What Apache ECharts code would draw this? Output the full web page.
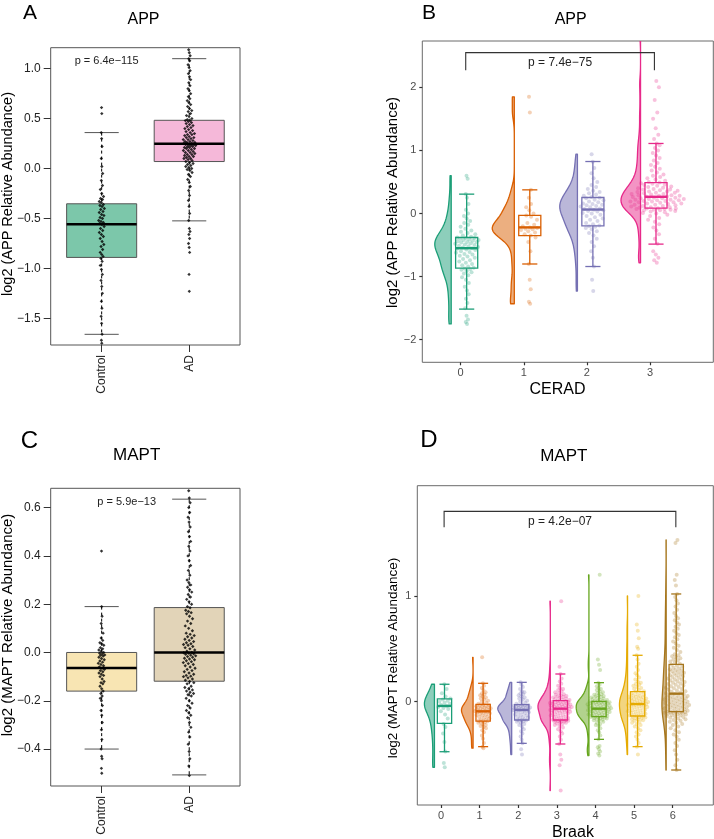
<!DOCTYPE html>
<html><head><meta charset="utf-8">
<script src="https://cdn.jsdelivr.net/npm/echarts@6/dist/echarts.min.js"></script>
<style>html,body{margin:0;padding:0;background:#fff}#c{width:714px;height:839px}</style>
</head><body><div id="c"></div>
<script>
// ---------------- DATA ----------------
const groupsAD = ['Control', 'AD'];

// Panel A: APP, Control vs AD
const appControl = [-1.75,-1.72,-1.66,-1.55,-1.48,-1.40,-1.33,-1.25,-1.18,-1.12,-1.06,-1.01,-0.97,-0.93,-0.90,
  -0.88,-0.86,-0.84,-0.81,-0.78,-0.76,-0.73,-0.70,-0.68,-0.66,-0.64,-0.62,-0.60,-0.58,-0.56,
  -0.55,-0.54,-0.53,-0.52,-0.50,-0.49,-0.47,-0.46,-0.44,-0.43,-0.41,-0.40,-0.38,-0.37,-0.36,
  -0.34,-0.33,-0.31,-0.30,-0.28,-0.25,-0.21,-0.17,-0.12,-0.05,0.02,0.10,0.22,0.30,0.36,0.55,0.61];
const appAD = [-1.23,-1.06,-0.84,-0.79,-0.75,-0.70,-0.66,-0.63,-0.60,-0.52,-0.45,-0.38,-0.32,-0.27,-0.22,-0.18,-0.14,-0.11,-0.08,-0.06,-0.04,-0.02,-0.01,0.0,0.01,0.02,0.03,0.04,0.05,0.06,
  0.07,0.08,0.09,0.10,0.10,0.11,0.12,0.12,0.13,0.14,0.14,0.15,0.16,0.16,0.17,0.18,0.18,0.19,0.20,0.20,0.21,0.21,0.22,0.22,0.23,0.23,0.24,0.24,0.24,0.25,
  0.25,0.26,0.26,0.27,0.27,0.28,0.29,0.29,0.30,0.31,0.31,0.32,0.33,0.34,0.34,0.35,0.36,0.37,0.38,0.39,0.40,0.41,0.42,0.43,0.44,0.45,0.46,0.47,0.48,0.48,
  0.49,0.50,0.52,0.53,0.55,0.57,0.58,0.60,0.62,0.64,0.66,0.68,0.70,0.72,0.75,0.78,0.80,0.83,0.86,0.89,0.92,0.95,0.98,1.01,1.04,1.08,1.10,1.13,1.16,1.19];
// [min whisker, Q1, median, Q3, max whisker]
const appBoxStats = [[-1.66,-0.89,-0.557,-0.353,0.36],[-0.524,0.07,0.247,0.483,1.1]];
const appPText = 'p = 6.4e\u2212115';

// Panel C: MAPT, Control vs AD
const maptControl = [-0.50,-0.48,-0.44,-0.43,-0.40,-0.36,-0.32,-0.29,-0.26,-0.24,-0.22,-0.20,-0.19,-0.18,-0.17,
  -0.16,-0.15,-0.14,-0.13,-0.125,-0.12,-0.11,-0.10,-0.095,-0.09,-0.085,-0.08,-0.075,-0.07,-0.065,
  -0.06,-0.055,-0.05,-0.045,-0.04,-0.035,-0.03,-0.025,-0.02,-0.015,-0.012,-0.01,-0.006,-0.003,0.0,
  0.005,0.01,0.015,0.02,0.03,0.035,0.04,0.05,0.06,0.08,0.10,0.12,0.15,0.19,0.42];
const maptAD = [-0.51,-0.47,-0.44,-0.41,-0.38,-0.35,-0.33,-0.31,-0.29,-0.27,-0.26,-0.25,-0.24,-0.23,-0.22,-0.21,-0.20,-0.19,-0.18,-0.175,-0.17,-0.165,-0.16,-0.155,-0.15,-0.145,-0.14,-0.13,-0.125,-0.12,
  -0.115,-0.11,-0.105,-0.1,-0.098,-0.095,-0.09,-0.085,-0.08,-0.075,-0.07,-0.065,-0.06,-0.055,-0.05,-0.046,-0.042,-0.038,-0.034,-0.03,-0.027,-0.024,-0.02,-0.017,-0.014,-0.011,-0.008,-0.005,-0.003,-0.001,
  0.0,0.005,0.01,0.015,0.02,0.025,0.03,0.033,0.036,0.04,0.045,0.05,0.055,0.06,0.065,0.07,0.075,0.08,0.09,0.10,0.11,0.12,0.13,0.14,0.15,0.16,0.165,0.17,0.175,0.185,
  0.19,0.20,0.21,0.22,0.23,0.24,0.25,0.26,0.27,0.28,0.29,0.30,0.32,0.34,0.36,0.38,0.40,0.42,0.44,0.46,0.48,0.50,0.52,0.54,0.56,0.58,0.60,0.62,0.64,0.67];
const maptBoxStats = [[-0.4,-0.16,-0.064,0.0,0.19],[-0.507,-0.119,0.0,0.186,0.635]];
const maptPText = 'p = 5.9e\u221213';

// Panel B: APP by CERAD
const ceradLevels = ['0','1','2','3'];
const cerad0 = [-1.75,-1.72,-1.68,-1.62,-1.50,-1.42,-1.35,-1.28,-1.22,-1.16,-1.10,-1.05,-1.01,-0.98,-0.95,-0.93,-0.91,-0.89,-0.88,-0.87,
  -0.86,-0.84,-0.82,-0.80,-0.78,-0.76,-0.74,-0.72,-0.70,-0.68,-0.67,-0.65,-0.64,-0.62,-0.61,-0.60,-0.58,-0.57,-0.56,-0.55,
  -0.54,-0.53,-0.52,-0.51,-0.50,-0.49,-0.48,-0.47,-0.46,-0.45,-0.45,-0.44,-0.43,-0.42,-0.42,-0.41,-0.40,-0.39,-0.39,-0.38,
  -0.37,-0.35,-0.33,-0.31,-0.29,-0.27,-0.24,-0.21,-0.18,-0.15,-0.12,-0.08,-0.04,0.0,0.06,0.15,0.25,0.31,0.55,0.60];
const cerad1 = [-1.43,-1.40,-1.20,-1.05,-0.80,-0.60,-0.45,-0.38,-0.35,-0.33,-0.30,-0.28,-0.26,-0.25,-0.24,-0.23,-0.22,-0.20,-0.18,-0.15,-0.10,-0.05,-0.03,0.0,0.05,0.10,0.15,0.25,0.375,1.60,1.85];
const cerad2 = [-1.23,-1.05,-0.84,-0.70,-0.60,-0.52,-0.45,-0.40,-0.35,-0.31,-0.28,-0.25,-0.23,-0.21,-0.20,
  -0.19,-0.17,-0.15,-0.12,-0.10,-0.08,-0.06,-0.04,-0.02,0.0,0.01,0.03,0.04,0.05,0.06,
  0.07,0.08,0.10,0.11,0.12,0.13,0.14,0.15,0.16,0.18,0.19,0.21,0.22,0.24,0.25,
  0.26,0.28,0.30,0.32,0.34,0.36,0.39,0.42,0.45,0.50,0.56,0.64,0.72,0.82,0.94];
const cerad3 = [-0.78,-0.74,-0.70,-0.65,-0.60,-0.48,-0.40,-0.33,-0.27,-0.22,-0.17,-0.13,-0.10,-0.07,-0.04,-0.02,0.0,0.01,0.02,0.03,0.04,0.05,0.05,0.06,0.06,0.07,0.07,0.08,0.08,0.085,
  0.09,0.10,0.10,0.11,0.12,0.12,0.13,0.14,0.14,0.15,0.16,0.16,0.17,0.18,0.18,0.19,0.19,0.20,0.20,0.21,0.21,0.22,0.22,0.23,0.23,0.24,0.24,0.25,0.25,0.26,
  0.27,0.27,0.28,0.28,0.29,0.29,0.30,0.31,0.31,0.32,0.33,0.33,0.34,0.35,0.35,0.36,0.37,0.38,0.38,0.39,0.40,0.41,0.42,0.43,0.44,0.45,0.46,0.47,0.48,0.49,
  0.50,0.52,0.54,0.56,0.58,0.60,0.62,0.65,0.68,0.71,0.74,0.77,0.80,0.84,0.88,0.92,0.96,1.00,1.04,1.08,1.11,1.18,1.25,1.35,1.50,1.60,1.80,2.00,2.10,2.80];
const ceradBoxStats = [[-1.515,-0.866,-0.55,-0.38,0.307],[-0.8,-0.35,-0.22,-0.03,0.375],[-0.84,-0.195,0.063,0.254,0.824],[-0.485,0.086,0.265,0.49,1.11]];
const ceradPText = 'p = 7.4e\u221275';

// Panel D: MAPT by Braak
const braakLevels = ['0','1','2','3','4','5','6'];
const braak0 = [-0.62,-0.58,-0.47,-0.38,-0.30,-0.24,-0.21,-0.16,-0.12,-0.09,-0.07,-0.06,-0.05,-0.04,-0.03,-0.02,-0.01,0.0,0.01,0.02,0.03,0.05,0.08,0.12,0.165];
const braak1 = [-0.44,-0.425,-0.39,-0.35,-0.32,-0.29,-0.27,-0.25,-0.24,-0.23,-0.22,-0.21,-0.20,-0.195,-0.19,-0.185,-0.183,
  -0.18,-0.17,-0.165,-0.16,-0.15,-0.145,-0.14,-0.13,-0.125,-0.12,-0.115,-0.11,-0.105,-0.10,-0.097,-0.094,-0.091,
  -0.088,-0.085,-0.08,-0.077,-0.073,-0.07,-0.066,-0.062,-0.058,-0.054,-0.05,-0.046,-0.042,-0.038,-0.034,-0.03,-0.026,
  -0.02,-0.01,0.0,0.01,0.02,0.03,0.04,0.05,0.06,0.07,0.08,0.09,0.11,0.13,0.15,0.174,0.42];
const braak2 = [-0.50,-0.45,-0.394,-0.36,-0.33,-0.30,-0.28,-0.26,-0.24,-0.22,-0.21,-0.20,-0.19,-0.185,-0.18,-0.177,-0.174,
  -0.17,-0.165,-0.16,-0.15,-0.145,-0.14,-0.13,-0.125,-0.12,-0.11,-0.105,-0.10,-0.095,-0.09,-0.085,-0.082,-0.078,
  -0.075,-0.072,-0.069,-0.066,-0.063,-0.06,-0.057,-0.054,-0.051,-0.048,-0.045,-0.042,-0.039,-0.036,-0.033,-0.031,-0.028,
  -0.02,-0.01,0.0,0.01,0.02,0.03,0.04,0.05,0.06,0.07,0.08,0.09,0.10,0.12,0.14,0.16,0.183];
const braak3 = [-0.84,-0.60,-0.55,-0.50,-0.40,-0.36,-0.33,-0.30,-0.28,-0.26,-0.245,-0.23,-0.22,-0.21,-0.205,-0.20,-0.195,-0.19,-0.187,-0.184,-0.181,-0.179,-0.177,-0.175,-0.173,
  -0.17,-0.165,-0.16,-0.155,-0.15,-0.145,-0.14,-0.135,-0.13,-0.125,-0.12,-0.115,-0.11,-0.105,-0.10,-0.097,-0.094,-0.091,-0.088,-0.085,-0.082,-0.078,-0.074,-0.07,-0.066,
  -0.063,-0.06,-0.057,-0.054,-0.051,-0.048,-0.045,-0.042,-0.039,-0.036,-0.033,-0.03,-0.027,-0.024,-0.021,-0.018,-0.015,-0.012,-0.009,-0.006,-0.003,0.0,0.003,0.006,0.01,
  0.015,0.02,0.025,0.03,0.035,0.04,0.045,0.05,0.055,0.06,0.065,0.07,0.08,0.09,0.10,0.11,0.12,0.13,0.15,0.17,0.19,0.22,0.262,0.33,0.95];
const braak4 = [-0.51,-0.49,-0.47,-0.45,-0.43,-0.42,-0.356,-0.32,-0.29,-0.27,-0.25,-0.23,-0.22,-0.21,-0.20,-0.19,-0.18,-0.175,-0.17,-0.165,-0.16,-0.157,-0.154,-0.151,-0.148,-0.145,-0.142,
  -0.139,-0.136,-0.133,-0.13,-0.127,-0.124,-0.121,-0.118,-0.115,-0.112,-0.109,-0.106,-0.103,-0.1,-0.097,-0.094,-0.091,-0.088,-0.085,-0.082,-0.079,-0.076,-0.073,-0.071,-0.069,-0.067,-0.066,
  -0.063,-0.06,-0.057,-0.054,-0.051,-0.048,-0.045,-0.042,-0.039,-0.036,-0.033,-0.03,-0.027,-0.024,-0.021,-0.018,-0.016,-0.014,-0.012,-0.01,-0.008,-0.006,-0.004,-0.002,0.0,0.002,0.004,
  0.008,0.012,0.016,0.02,0.025,0.03,0.035,0.04,0.045,0.05,0.055,0.06,0.065,0.07,0.08,0.09,0.10,0.11,0.12,0.13,0.145,0.16,0.18,0.30,0.35,0.40,1.2];
const braak5 = [-0.50,-0.425,-0.39,-0.36,-0.33,-0.31,-0.29,-0.27,-0.25,-0.235,-0.22,-0.21,-0.2,-0.19,-0.18,-0.175,-0.17,-0.165,-0.16,-0.155,-0.15,-0.146,-0.142,-0.138,-0.135,
  -0.13,-0.125,-0.12,-0.115,-0.11,-0.105,-0.10,-0.095,-0.09,-0.085,-0.08,-0.075,-0.07,-0.065,-0.06,-0.055,-0.05,-0.046,-0.042,-0.038,-0.034,-0.03,-0.027,-0.024,-0.022,
  -0.018,-0.014,-0.01,-0.006,-0.002,0.002,0.006,0.01,0.014,0.018,0.022,0.026,0.03,0.034,0.038,0.042,0.046,0.05,0.055,0.06,0.065,0.07,0.078,0.086,0.095,
  0.10,0.11,0.12,0.13,0.14,0.15,0.16,0.17,0.18,0.19,0.21,0.23,0.25,0.27,0.30,0.33,0.36,0.40,0.439,0.50,0.52,0.60,0.67,0.73,1.0];
const braak6 = [-0.646,-0.6,-0.55,-0.5,-0.46,-0.42,-0.39,-0.36,-0.33,-0.31,-0.29,-0.27,-0.25,-0.235,-0.22,-0.21,-0.2,-0.19,-0.18,-0.172,-0.165,-0.158,-0.151,-0.145,-0.14,-0.135,-0.13,-0.126,-0.122,-0.118,-0.114,-0.11,-0.107,-0.104,-0.101,-0.099,-0.097,-0.096,-0.095,-0.094,
  -0.09,-0.085,-0.081,-0.076,-0.072,-0.067,-0.064,-0.06,-0.055,-0.052,-0.048,-0.043,-0.04,-0.036,-0.031,-0.028,-0.024,-0.019,-0.016,-0.012,-0.007,-0.004,0.0,0.005,0.008,0.012,0.017,0.02,0.024,0.029,0.032,0.036,0.041,0.044,0.048,0.053,0.056,0.06,0.066,0.072,
  0.08,0.087,0.094,0.1,0.107,0.113,0.12,0.127,0.133,0.14,0.147,0.153,0.16,0.167,0.173,0.18,0.187,0.193,0.2,0.207,0.213,0.22,0.227,0.233,0.24,0.247,0.253,0.26,0.267,0.273,0.28,0.287,0.293,0.3,0.307,0.313,0.32,0.33,0.34,0.35,
  0.36,0.37,0.38,0.39,0.4,0.41,0.42,0.43,0.44,0.45,0.47,0.49,0.51,0.53,0.55,0.57,0.59,0.61,0.63,0.65,0.67,0.69,0.71,0.73,0.75,0.77,0.79,0.81,0.84,0.87,0.9,0.93,0.96,0.99,1.019,1.1,1.15,1.2,1.5,1.53];
const braakBoxStats = [[-0.473,-0.205,-0.04,0.026,0.165],[-0.425,-0.183,-0.091,-0.025,0.174],[-0.394,-0.173,-0.078,-0.028,0.183],
  [-0.4,-0.173,-0.066,0.01,0.262],[-0.356,-0.142,-0.066,0.004,0.18],[-0.425,-0.135,-0.022,0.095,0.439],[-0.646,-0.094,0.076,0.354,1.019]];
const braakPText = 'p = 4.2e\u221207';

const appTicks = [-1.5,-1,-0.5,0,0.5,1];
const maptTicks = [-0.4,-0.2,0,0.2,0.4,0.6];
const ceradYTicks = [-2,-1,0,1,2];
const braakYTicks = [0,1];

// ---------------- STYLE ----------------
const FONT = '"Liberation Sans", Arial, Helvetica, sans-serif';
const dark2 = ['#1b9e77','#d95f02','#7570b3','#e7298a','#66a61e','#e6ab02','#a6761d'];
const fillsA = ['#7cc7aa','#f5b8d9'];
const fillsC = ['#f8e5b3','#e2d4b8'];
// half-violin maximum widths (axis units)
const ceradViolinW = [0.26, 0.35, 0.28, 0.31];
const braakViolinW = [0.26, 0.30, 0.36, 0.32, 0.33, 0.21, 0.11];
function rgba(hex, a){ const n=parseInt(hex.slice(1),16); return 'rgba('+(n>>16)+','+((n>>8)&255)+','+(n&255)+','+a+')'; }
function minus(s){ return String(s).replace('-', '\u2212'); }

// ---------------- HELPERS ----------------
function kde(vals){
  const s = vals.slice().sort((a,b)=>a-b), N = s.length;
  const mean = s.reduce((a,b)=>a+b,0)/N;
  const sd = Math.sqrt(s.reduce((a,b)=>a+(b-mean)*(b-mean),0)/(N-1));
  const q = p => { const h=(N-1)*p, i=Math.floor(h); const j=Math.min(i+1,N-1); return s[i]+(h-i)*(s[j]-s[i]); };
  const iqr = q(0.75)-q(0.25);
  const bw = 0.9*Math.min(sd, iqr/1.34 || sd)*Math.pow(N,-0.2);
  const at = y => { let d=0; for (const v of s){ const z=(y-v)/bw; d+=Math.exp(-0.5*z*z);} return d/(N*bw*Math.sqrt(2*Math.PI)); };
  const pts = []; const lo=s[0], hi=s[N-1], K=120;
  for (let k=0;k<=K;k++){ const y=lo+(hi-lo)*k/K; pts.push([y, at(y)]); }
  const peak = Math.max(...pts.map(p=>p[1]));
  return {pts, at, peak};
}
function swarm(vals, center, halfW, kd, floor){
  return vals.map((v,i)=>{
    const u = (((i+1)*0.6180339887) % 1)*2 - 1;
    const d = Math.max(floor, kd.at(v)/kd.peak);
    return [center + u*halfW*d, v];
  });
}
function rBoxRender(fills, boxW, capW){
  return (params, api) => {
    const x=api.value(0), mn=api.value(1), q1=api.value(2), md=api.value(3), q3=api.value(4), mx=api.value(5);
    const c = p => api.coord(p);
    const tl=c([x-boxW/2,q3]), br=c([x+boxW/2,q1]), ml=c([x-boxW/2,md]), mr=c([x+boxW/2,md]);
    const top=c([x,mx]), bot=c([x,mn]);
    const a1=c([x-capW/2,mx]), a2=c([x+capW/2,mx]), b1=c([x-capW/2,mn]), b2=c([x+capW/2,mn]);
    const ws = {stroke:'#000', lineWidth:1, lineDash:[3,3]};
    const cs = {stroke:'#555', lineWidth:1};
    return {type:'group', children:[
      {type:'line', shape:{x1:top[0],y1:top[1],x2:top[0],y2:tl[1]}, style:ws},
      {type:'line', shape:{x1:bot[0],y1:br[1],x2:bot[0],y2:bot[1]}, style:ws},
      {type:'line', shape:{x1:a1[0],y1:a1[1],x2:a2[0],y2:a2[1]}, style:cs},
      {type:'line', shape:{x1:b1[0],y1:b1[1],x2:b2[0],y2:b2[1]}, style:cs},
      {type:'rect', shape:{x:tl[0],y:tl[1],width:br[0]-tl[0],height:br[1]-tl[1]}, style:{fill:fills[params.dataIndex], stroke:'#555', lineWidth:1}},
      {type:'line', shape:{x1:ml[0],y1:ml[1],x2:mr[0],y2:mr[1]}, style:{stroke:'#000', lineWidth:2.5}}
    ]};
  };
}
function gBoxRender(colors, boxW, capW){
  return (params, api) => {
    const col = colors[params.dataIndex];
    const x=api.value(0), mn=api.value(1), q1=api.value(2), md=api.value(3), q3=api.value(4), mx=api.value(5);
    const c = p => api.coord(p);
    const tl=c([x-boxW/2,q3]), br=c([x+boxW/2,q1]), ml=c([x-boxW/2,md]), mr=c([x+boxW/2,md]);
    const top=c([x,mx]), bot=c([x,mn]);
    const a1=c([x-capW/2,mx]), a2=c([x+capW/2,mx]), b1=c([x-capW/2,mn]), b2=c([x+capW/2,mn]);
    const ls = {stroke:col, lineWidth:1.3};
    return {type:'group', children:[
      {type:'line', shape:{x1:top[0],y1:top[1],x2:top[0],y2:tl[1]}, style:ls},
      {type:'line', shape:{x1:bot[0],y1:br[1],x2:bot[0],y2:bot[1]}, style:ls},
      {type:'line', shape:{x1:a1[0],y1:a1[1],x2:a2[0],y2:a2[1]}, style:ls},
      {type:'line', shape:{x1:b1[0],y1:b1[1],x2:b2[0],y2:b2[1]}, style:ls},
      {type:'rect', shape:{x:tl[0],y:tl[1],width:br[0]-tl[0],height:br[1]-tl[1]}, style:{fill:'none', stroke:col, lineWidth:1.3}},
      {type:'line', shape:{x1:ml[0],y1:ml[1],x2:mr[0],y2:mr[1]}, style:{stroke:col, lineWidth:2.4}}
    ]};
  };
}
function violinRender(kds, colors, widths){
  return (params, api) => {
    const gi = params.dataIndex, base = api.value(0), kd = kds[gi], col = colors[gi];
    const scale = widths[gi] / kd.peak;
    const pts = kd.pts.map(([y,d]) => api.coord([base - d*scale, y]));
    pts.push(api.coord([base, kd.pts[kd.pts.length-1][0]]));
    pts.push(api.coord([base, kd.pts[0][0]]));
    return {type:'polygon', shape:{points:pts}, style:{fill:rgba(col,0.5), stroke:col, lineWidth:1.3, lineJoin:'round'}};
  };
}
function bracketRender(text){
  return (params, api) => {
    const x1=api.value(0), x2=api.value(1), yt=api.value(2), yl=api.value(3);
    const p1=api.coord([x1,yl]), p2=api.coord([x1,yt]), p3=api.coord([x2,yt]), p4=api.coord([x2,yl]);
    return {type:'group', children:[
      {type:'polyline', shape:{points:[p1,p2,p3,p4]}, style:{stroke:'#333', lineWidth:1.1, fill:'none'}},
      {type:'text', x:(p2[0]+p3[0])/2, y:p2[1]+10, style:{text:text, font:'12px '+FONT, fill:'#222', align:'center', verticalAlign:'middle', textAlign:'center', textVerticalAlign:'middle'}}
    ]};
  };
}
function textRender(text, size){
  return (params, api) => {
    const p = api.coord([api.value(0), api.value(1)]);
    return {type:'text', x:p[0], y:p[1], style:{text:text, font:size+'px '+FONT, fill:'#222', align:'center', verticalAlign:'middle', textAlign:'center', textVerticalAlign:'middle'}};
  };
}

// ---------------- AXES ----------------
function rX(gridIndex, min, max, ticks, fmt){
  return {type:'value', gridIndex, min, max, splitLine:{show:false}, axisLine:{show:false, onZero:false},
    axisTick:{show:true, customValues:ticks, length:7, lineStyle:{color:'#333'}},
    axisLabel:{customValues:ticks, formatter:fmt, rotate:90, fontSize:12, fontFamily:FONT, color:'#222', margin:10}};
}
function rY(gridIndex, min, max, ticks){
  return {type:'value', gridIndex, min, max, splitLine:{show:false}, axisLine:{show:false, onZero:false},
    axisTick:{show:true, customValues:ticks, length:7, lineStyle:{color:'#333'}},
    axisLabel:{customValues:ticks, formatter:v=>minus(v.toFixed(1)), fontSize:12, fontFamily:FONT, color:'#222', margin:10}};
}
function gX(gridIndex, min, max, ticks, labels){
  return {type:'value', gridIndex, min, max, splitLine:{show:false}, axisLine:{show:false, onZero:false},
    axisTick:{show:true, customValues:ticks, length:3, lineStyle:{color:'#333', width:1.2}},
    axisLabel:{customValues:ticks, formatter:v=>labels[Math.round(v)], fontSize:11, fontFamily:FONT, color:'#4d4d4d', margin:5}};
}
function gY(gridIndex, min, max, ticks){
  return {type:'value', gridIndex, min, max, splitLine:{show:false}, axisLine:{show:false, onZero:false},
    axisTick:{show:true, customValues:ticks, length:3, lineStyle:{color:'#333', width:1.2}},
    axisLabel:{customValues:ticks, formatter:v=>minus(v), fontSize:11, fontFamily:FONT, color:'#4d4d4d', margin:6}};
}

// ---------------- BUILD ----------------
const series = [];
// Panel A & C (R base boxplot + beeswarm)
function rPanel(idx, groups, stats, fills, halfWs, ptext, pPos){
  series.push({type:'custom', xAxisIndex:idx, yAxisIndex:idx, renderItem:rBoxRender(fills, 0.8, 0.39),
    data: stats.map((s,i)=>[i+1, ...s]), encode:{x:0, y:[1,2,3,4,5]}, z:2, silent:true});
  groups.forEach((vals,i)=>{
    const kd = kde(vals);
    series.push({type:'scatter', xAxisIndex:idx, yAxisIndex:idx, data:swarm(vals, i+1, halfWs[i], kd, 0.05),
      symbol:'diamond', symbolSize:3.4, itemStyle:{color:'#000'}, z:3, silent:true});
  });
  series.push({type:'custom', xAxisIndex:idx, yAxisIndex:idx, renderItem:textRender(ptext, 11), data:[pPos], z:4, silent:true});
}
rPanel(0, [appControl, appAD], appBoxStats, fillsA, [0.035, 0.075], appPText, [1.057, 1.077]);
rPanel(2, [maptControl, maptAD], maptBoxStats, fillsC, [0.04, 0.075], maptPText, [1.286, 0.625]);

// Panel B & D (raincloud)
function gPanel(idx, groups, stats, halfWs, boxOff, violinOff, violinWs, boxW, capW, ptext, bracket){
  const kds = groups.map(v=>kde(v));
  series.push({type:'custom', xAxisIndex:idx, yAxisIndex:idx, renderItem:violinRender(kds, dark2, violinWs),
    data: groups.map((v,i)=>[i+violinOff, Math.min(...v)]), encode:{x:0, y:1}, clip:true, z:2, silent:true});
  groups.forEach((vals,i)=>{
    series.push({type:'scatter', xAxisIndex:idx, yAxisIndex:idx, data:swarm(vals, i+boxOff, halfWs[i], kds[i], 0.12),
      symbol:'circle', symbolSize:4, itemStyle:{color:rgba(dark2[i],0.36)}, z:3, silent:true, clip:true});
  });
  series.push({type:'custom', xAxisIndex:idx, yAxisIndex:idx, renderItem:gBoxRender(dark2, boxW, capW),
    data: stats.map((s,i)=>[i+boxOff, ...s]), encode:{x:0, y:[1,2,3,4,5]}, z:4, silent:true});
  series.push({type:'custom', xAxisIndex:idx, yAxisIndex:idx, renderItem:bracketRender(ptext),
    data:[bracket], z:5, silent:true});
}
gPanel(1, [cerad0,cerad1,cerad2,cerad3], ceradBoxStats, [0.2,0.15,0.2,0.45], 0.095, -0.15, ceradViolinW, 0.35, 0.24, ceradPText, [0.08, 3.07, 2.55, 2.27]);
gPanel(3, [braak0,braak1,braak2,braak3,braak4,braak5,braak6], braakBoxStats, [0.18,0.22,0.24,0.3,0.32,0.28,0.34], 0.09, -0.17, braakViolinW, 0.37, 0.26, braakPText, [0.08, 6.08, 1.80, 1.65]);

const gridStyle = {show:true, borderColor:'#555', borderWidth:1, backgroundColor:'transparent'};
const gridStyleG = {show:true, borderColor:'#6a6a6a', borderWidth:1, backgroundColor:'transparent'};

function txt(text, x, y, size, rot, color){
  return {type:'text', x, y, rotation:rot||0, silent:true, style:{text, font:size+'px '+FONT, fill:color||'#000',
    align:'center', verticalAlign:'middle', textAlign:'center', textVerticalAlign:'middle'}};
}

const option = {
  animation:false,
  backgroundColor:'#fff',
  grid:[
    Object.assign({left:50.7, top:47.7, width:189.3, height:297.3}, gridStyle),
    Object.assign({left:422.3, top:41, width:291, height:321.3}, gridStyleG),
    Object.assign({left:50.7, top:488.3, width:189.3, height:297.7}, gridStyle),
    Object.assign({left:417.3, top:485.7, width:296, height:319.3}, gridStyleG)
  ],
  xAxis:[
    rX(0, 0.418, 2.58, [1,2], v=>groupsAD[Math.round(v)-1]),
    gX(1, -0.608, 4.003, [0,1,2,3], ceradLevels),
    rX(2, 0.418, 2.58, [1,2], v=>groupsAD[Math.round(v)-1]),
    gX(3, -0.614, 7.05, [0,1,2,3,4,5,6], braakLevels)
  ],
  yAxis:[
    rY(0, -1.767, 1.21, appTicks),
    gY(1, -2.358, 2.734, ceradYTicks),
    rY(2, -0.553, 0.68, maptTicks),
    gY(3, -0.977, 2.043, braakYTicks)
  ],
  graphic:[
    txt('A', 30, 13, 21), txt('APP', 143.5, 20, 16),
    txt('B', 429, 13, 21), txt('APP', 570.7, 20, 16),
    txt('C', 29.5, 441, 24), txt('MAPT', 136.7, 455, 17),
    txt('D', 429, 440.5, 24), txt('MAPT', 563.8, 456, 17),
    txt('log2 (APP Relative Abundance)', 8, 194, 14.5, Math.PI/2),
    txt('log2 (APP Relative Abundance)', 393, 202.5, 15, Math.PI/2),
    txt('log2 (MAPT Relative Abundance)', 8, 625, 15, Math.PI/2),
    txt('log2 (MAPT Relative Abundance)', 393.3, 658, 13.5, Math.PI/2),
    txt('CERAD', 557.5, 390, 16),
    txt('Braak', 573, 833, 16)
  ],
  series
};
const chart = echarts.init(document.getElementById('c'), null, {renderer:'canvas'});
chart.setOption(option);
</script>
</body></html>
